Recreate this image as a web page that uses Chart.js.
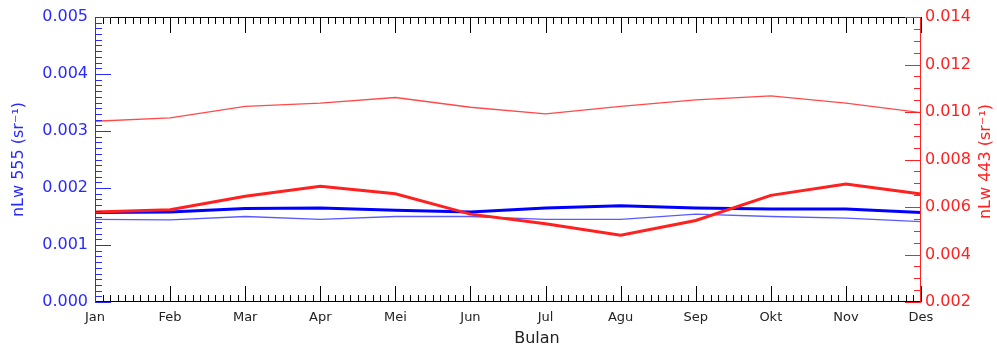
<!DOCTYPE html>
<html>
<head>
<meta charset="utf-8">
<script src="https://cdn.jsdelivr.net/npm/chart.js@4.4.1/dist/chart.umd.min.js"></script>
<style>
  html, body { margin: 0; padding: 0; background: #fff; }
  #wrap { width: 997px; height: 347px; }
</style>
</head>
<body>
<div id="wrap"><canvas id="c" width="997" height="347"></canvas></div>
<script>
// data (monthly values)
var bulan = ["Jan", "Feb", "Mar", "Apr", "Mei", "Jun", "Jul", "Agu", "Sep", "Okt", "Nov", "Des"];
var nlw443Thick = [0.00579, 0.00588, 0.00645, 0.00687, 0.00656, 0.00570, 0.00529, 0.00481, 0.00543, 0.00649, 0.00697, 0.00655];
var nlw443Thin  = [0.00961, 0.00975, 0.01024, 0.01037, 0.01061, 0.01020, 0.00992, 0.01024, 0.01051, 0.01068, 0.01037, 0.00997];
var nlw555Thick = [0.00157, 0.00158, 0.00164, 0.00165, 0.00161, 0.00158, 0.00165, 0.00169, 0.00165, 0.00163, 0.00163, 0.00157];
var nlw555Thin  = [0.00145, 0.00144, 0.00150, 0.00145, 0.00150, 0.00150, 0.00145, 0.00145, 0.00154, 0.00150, 0.00147, 0.00141];

var BLUE = "#2a2aff", RED = "#ff2020";
var FONT = "'DejaVu Sans', sans-serif";

// frame + IDL style inward ticks, right title and x title
var axesPlugin = {
  id: "idlAxes",
  afterDraw: function (chart) {
    var ctx = chart.ctx, a = chart.chartArea;
    var sx = chart.scales.x, sy = chart.scales.y, sy1 = chart.scales.y1;
    var MAJ = 16, MIN = 7;
    ctx.save();
    ctx.lineWidth = 1;

    // x ticks (bottom, pointing up; top, pointing down)
    ctx.strokeStyle = "#000";
    ctx.beginPath();
    ctx.moveTo(a.left, a.top + 0.5); ctx.lineTo(a.right, a.top + 0.5);
    ctx.moveTo(a.left, a.bottom - 0.5); ctx.lineTo(a.right, a.bottom - 0.5);
    for (var m = 0; m < bulan.length; m++) {
      var p0 = sx.getPixelForValue(m);
      var p1 = m < bulan.length - 1 ? sx.getPixelForValue(m + 1) : p0;
      var nk = m < bulan.length - 1 ? 10 : 1;
      for (var k = 0; k < nk; k++) {
        var px = Math.round(p0 + (p1 - p0) * k / 10) + 0.5;
        var len = k === 0 ? MAJ : MIN;
        ctx.moveTo(px, a.bottom); ctx.lineTo(px, a.bottom - len);
        ctx.moveTo(px, a.top); ctx.lineTo(px, a.top + len);
      }
    }
    ctx.stroke();

    // left axis (blue)
    ctx.strokeStyle = BLUE;
    ctx.beginPath();
    ctx.moveTo(a.left + 0.5, a.top); ctx.lineTo(a.left + 0.5, a.bottom);
    for (var i = 0; i <= 50; i++) {
      var py = Math.round(sy.getPixelForValue(i * 0.0001)) + 0.5;
      if (i === 50) py -= 0; 
      ctx.moveTo(a.left, py); ctx.lineTo(a.left + (i % 10 === 0 ? MAJ : MIN), py);
    }
    ctx.stroke();

    // right axis (red)
    ctx.strokeStyle = RED;
    ctx.beginPath();
    ctx.moveTo(a.right - 0.5, a.top); ctx.lineTo(a.right - 0.5, a.bottom);
    for (var j = 0; j <= 24; j++) {
      var qy = Math.round(sy1.getPixelForValue(0.002 + j * 0.0005)) + 0.5;
      ctx.moveTo(a.right, qy); ctx.lineTo(a.right - (j % 4 === 0 ? MAJ : MIN), qy);
    }
    ctx.stroke();

    // right title, reads bottom to top like the left one
    ctx.fillStyle = RED;
    ctx.font = "16px " + FONT;
    ctx.textAlign = "center";
    ctx.textBaseline = "middle";
    ctx.translate(986, (a.top + a.bottom) / 2 + 2);
    ctx.rotate(-Math.PI / 2);
    ctx.fillText("nLw 443 (sr\u207B\u00B9)", 0, 0);
    ctx.restore();

    ctx.save();
    ctx.fillStyle = "#222";
    ctx.font = "16px " + FONT;
    ctx.textAlign = "center";
    ctx.textBaseline = "middle";
    ctx.fillText("Bulan", 537, 339);
    ctx.restore();
  }
};

new Chart(document.getElementById("c"), {
  type: "line",
  data: {
    labels: bulan,
    datasets: [
      { label: "nLw 443 a", data: nlw443Thick, yAxisID: "y1", borderColor: RED, borderWidth: 3 },
      { label: "nLw 555 a", data: nlw555Thick, yAxisID: "y", borderColor: "#0000ff", borderWidth: 3 },
      { label: "nLw 555 b", data: nlw555Thin, yAxisID: "y", borderColor: "#5a5aff", borderWidth: 1.3 },
      { label: "nLw 443 b", data: nlw443Thin, yAxisID: "y1", borderColor: "#ff4a4a", borderWidth: 1.3 }
    ]
  },
  options: {
    responsive: false,
    devicePixelRatio: 1,
    animation: false,
    layout: { padding: { top: 17, left: 0, right: 0, bottom: 0 } },
    elements: { point: { radius: 0 }, line: { tension: 0 } },
    plugins: { legend: { display: false }, tooltip: { enabled: false } },
    scales: {
      x: {
        type: "category",
        offset: false,
        grid: { display: false, drawTicks: false },
        border: { display: false },
        ticks: { color: "#222", font: { family: FONT, size: 13 }, padding: 8, maxRotation: 0, autoSkip: false },
        afterFit: function (s) { s.height = 45; }
      },
      y: {
        position: "left",
        min: 0, max: 0.005,
        grid: { display: false, drawTicks: false },
        border: { display: false },
        ticks: { stepSize: 0.001, color: BLUE, padding: 7, font: { family: FONT, size: 16 },
          callback: function (v) { return Number(v).toFixed(3); } },
        title: { display: true, text: "nLw 555 (sr\u207B\u00B9)", color: BLUE, font: { family: FONT, size: 16 }, padding: { top: 9, bottom: 0 } },
        afterFit: function (s) { s.width = 95; }
      },
      y1: {
        position: "right",
        min: 0.002, max: 0.014,
        grid: { display: false, drawTicks: false },
        border: { display: false },
        ticks: { stepSize: 0.002, color: RED, padding: 4, font: { family: FONT, size: 16 },
          callback: function (v) { return Number(v).toFixed(3); } },
        afterFit: function (s) { s.width = 76; }
      }
    }
  },
  plugins: [axesPlugin]
});
</script>
</body>
</html>
